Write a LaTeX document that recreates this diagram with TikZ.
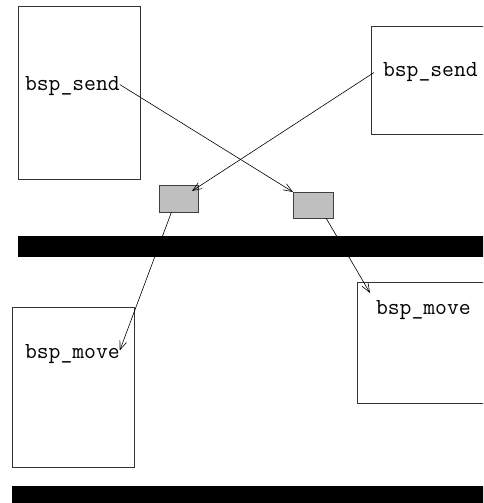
\documentclass[tikz,border=0pt]{standalone}
\usetikzlibrary{arrows.meta}
\begin{document}
\begin{tikzpicture}[x=1pt,y=-1pt,
  panel/.style={draw=black!80, line width=0.8pt, inner sep=0pt, outer sep=0pt, anchor=north west},
  msgbox/.style={draw=black!75, fill=black!25, line width=0.9pt, inner sep=0pt, outer sep=0pt, anchor=north west},
  bar/.style={fill=black, inner sep=0pt, outer sep=0pt, anchor=north west},
  call/.style={font=\ttfamily\fontsize{23}{27}\selectfont, inner sep=0pt, outer sep=0pt, anchor=base west},
  msg/.style={-{Straight Barb[length=9pt,width=7pt]}, line width=0.6pt}]
\clip (0,0) rectangle (483,503);
% processor panels (the right-hand ones run off the page)
\node[panel, minimum width=122pt, minimum height=173pt] (p1) at (18,6) {};
\node[panel, minimum width=130pt, minimum height=108pt] (p2) at (371,26) {};
\node[panel, minimum width=122pt, minimum height=160pt] (p3) at (12,307) {};
\node[panel, minimum width=145pt, minimum height=121pt] (p4) at (357,282) {};
% superstep barriers
\node[bar, minimum width=480pt, minimum height=21pt] (b1) at (18,236) {};
\node[bar, minimum width=480pt, minimum height=24pt] (b2) at (12,486) {};
% messages in transit
\node[msgbox, minimum width=39pt, minimum height=27pt] (g1) at (159,185) {};
\node[msgbox, minimum width=40pt, minimum height=26pt] (g2) at (293,192) {};
% calls
\node[call] (s1) at (25,90) {bsp\_send};
\node[call] (s2) at (383,77) {bsp\_send};
\node[call] (m1) at (25,358) {bsp\_move};
\node[call] (m2) at (376,314) {bsp\_move};
% message flow
\draw[msg] ([yshift=1pt]s1.east) -- (g2.north west);
\draw[msg] ([xshift=-9pt]s2.west) -- ([xshift=-6pt,yshift=-6pt]g1.north east);
\draw[msg] ([xshift=-7pt]g1.south) -- ([yshift=3pt]m1.east);
\draw[msg] ([xshift=13pt]g2.south) -- ([xshift=13pt,yshift=-11pt]p4.north west);
\end{tikzpicture}
\end{document}
